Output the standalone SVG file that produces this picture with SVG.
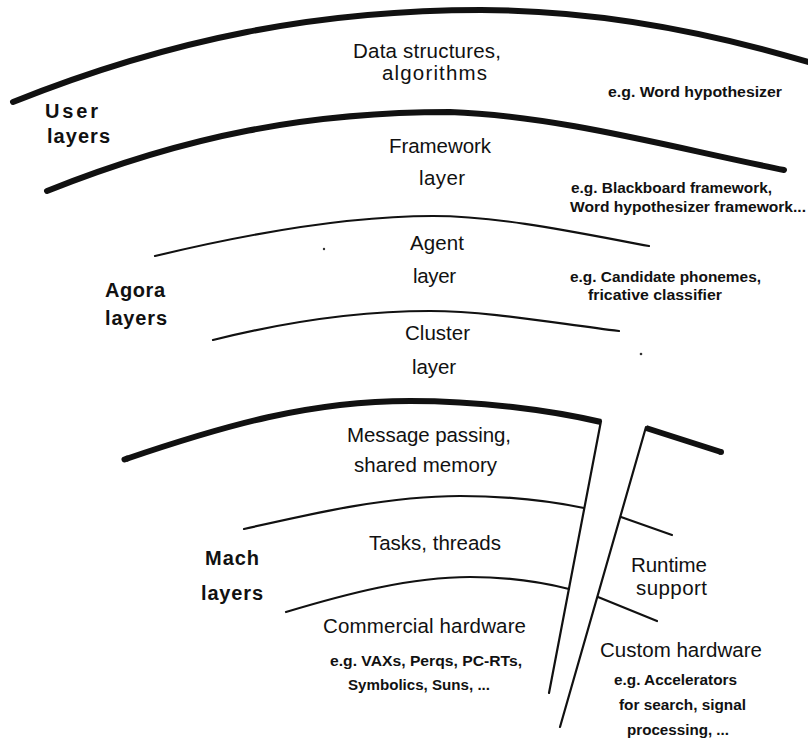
<svg xmlns="http://www.w3.org/2000/svg" width="808" height="742" viewBox="0 0 808 742">
<style>
  .bg { fill: #ffffff; }
  .thick { fill: none; stroke: #111; stroke-width: 6; stroke-linecap: round; }
  .thin { fill: none; stroke: #111; stroke-width: 2.2; stroke-linecap: round; }
  .t { font-family: "Liberation Sans", Arial, Helvetica, sans-serif; font-size: 20.5px; fill: #111; text-anchor: middle; }
  .lbl { font-family: "Liberation Sans", Arial, Helvetica, sans-serif; font-size: 20px; font-weight: bold; fill: #111; }
  .s { font-family: "Liberation Sans", Arial, Helvetica, sans-serif; font-size: 14.5px; font-weight: bold; fill: #111; }
  .dot { fill: #333; }
</style>
<rect class="bg" x="0" y="0" width="808" height="742"/>

<g id="connectors">
  <!-- User layer boundaries -->
  <path class="thick" d="M13,102 C173,38 321,10 481,10 C591,10 698,29 808,62"/>
  <path class="thick" d="M47,191 C187,135 310,112 450,112 C560,116 674,148 784,170"/>
  <!-- Agora layer boundaries -->
  <path class="thin" d="M155,256 C255,232 353,216 433,216 C500,216 579,233 649,246"/>
  <path class="thin" d="M213,340 C293,320 370,311 430,311 C490,311 559,324 619,331"/>
  <!-- Mach top boundary -->
  <path class="thick" style="stroke-linecap:butt" d="M126,459 C226,425 310,401 410,401 C480,401 550,410 601,422"/>
  <path class="thick" d="M124.5,459.5 L127,458.6"/>
  <line class="thin" x1="601" y1="421" x2="549" y2="693"/>
  <path class="thick" style="stroke-linecap:butt" d="M646,428 L721,452"/>
  <circle cx="721" cy="452" r="3" fill="#111"/>
  <line class="thin" x1="646" y1="427" x2="560" y2="727"/>
  <!-- Mach inner boundaries -->
  <path class="thin" d="M244,529 C319,512 390,496 460,496 C510,496 550,501 584,508"/>
  <line class="thin" x1="621" y1="517" x2="672" y2="535"/>
  <path class="thin" d="M286,612 C346,594 410,577 470,577 C510,577 545,583 569,589"/>
  <line class="thin" x1="598" y1="597" x2="657" y2="621"/>
  <circle class="dot" cx="324" cy="249" r="1.2"/>
  <circle class="dot" cx="641" cy="354" r="1.3"/>
</g>

<g id="user-layers">
  <text class="lbl" x="45" y="118" textLength="53">User</text>
  <text class="lbl" x="47" y="143" textLength="63">layers</text>
</g>
<g id="data-structures">
  <text class="t" x="427" y="58" textLength="148">Data structures,</text>
  <text class="t" x="434.5" y="80" textLength="105">algorithms</text>
</g>
<g id="word-hypothesizer-example">
  <text class="s" x="608" y="97" textLength="174" lengthAdjust="spacingAndGlyphs">e.g. Word hypothesizer</text>
</g>
<g id="framework-layer">
  <text class="t" x="440" y="153" textLength="102">Framework</text>
  <text class="t" x="442" y="185" textLength="46">layer</text>
</g>
<g id="framework-example">
  <text class="s" x="571" y="193" textLength="201" lengthAdjust="spacingAndGlyphs">e.g. Blackboard framework,</text>
  <text class="s" x="570" y="212" textLength="236" lengthAdjust="spacingAndGlyphs">Word hypothesizer framework...</text>
</g>
<g id="agora-layers">
  <text class="lbl" x="105" y="297" textLength="60">Agora</text>
  <text class="lbl" x="105" y="325" textLength="62">layers</text>
</g>
<g id="agent-layer">
  <text class="t" x="437" y="250" textLength="54">Agent</text>
  <text class="t" x="434.5" y="283" textLength="43">layer</text>
</g>
<g id="agent-example">
  <text class="s" x="570" y="282" textLength="191" lengthAdjust="spacingAndGlyphs">e.g. Candidate phonemes,</text>
  <text class="s" x="588" y="300" textLength="134" lengthAdjust="spacingAndGlyphs">fricative classifier</text>
</g>
<g id="cluster-layer">
  <text class="t" x="437.5" y="340" textLength="65">Cluster</text>
  <text class="t" x="434" y="374" textLength="44">layer</text>
</g>
<g id="message-passing">
  <text class="t" x="429" y="442" textLength="164">Message passing,</text>
  <text class="t" x="425.5" y="472" textLength="143">shared memory</text>
</g>
<g id="mach-layers">
  <text class="lbl" x="205" y="565" textLength="54">Mach</text>
  <text class="lbl" x="201" y="600" textLength="62">layers</text>
</g>
<g id="tasks-threads">
  <text class="t" x="435" y="550" textLength="132">Tasks, threads</text>
</g>
<g id="runtime-support">
  <text class="t" x="669" y="572" textLength="76">Runtime</text>
  <text class="t" x="671.5" y="595" textLength="71">support</text>
</g>
<g id="commercial-hardware">
  <text class="t" x="424.5" y="633" textLength="203">Commercial hardware</text>
  <text class="s" x="330" y="666" textLength="192" lengthAdjust="spacingAndGlyphs">e.g. VAXs, Perqs, PC-RTs,</text>
  <text class="s" x="348" y="690" textLength="142" lengthAdjust="spacingAndGlyphs">Symbolics, Suns, ...</text>
</g>
<g id="custom-hardware">
  <text class="t" x="681" y="657" textLength="162">Custom hardware</text>
  <text class="s" x="614" y="685" textLength="123" lengthAdjust="spacingAndGlyphs">e.g. Accelerators</text>
  <text class="s" x="619" y="710" textLength="127" lengthAdjust="spacingAndGlyphs">for search, signal</text>
  <text class="s" x="627" y="735" textLength="102" lengthAdjust="spacingAndGlyphs">processing, ...</text>
</g>
</svg>
